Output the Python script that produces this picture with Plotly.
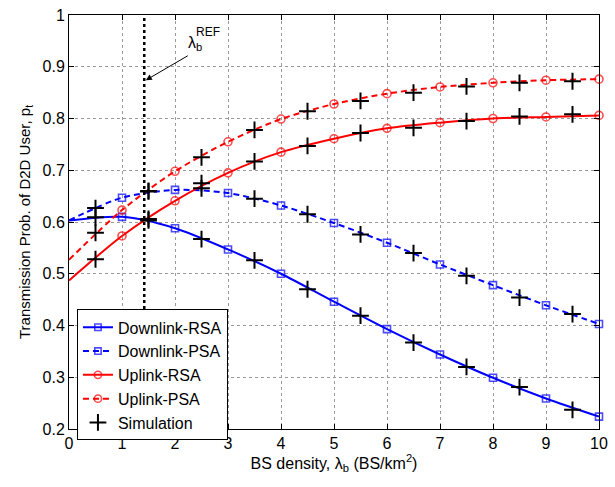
import plotly.graph_objects as go

# ---- data ----
x_ana = [0, 1, 2, 3, 4, 5, 6, 7, 8, 9, 10]
downlink_rsa = [0.603, 0.610, 0.588, 0.547, 0.500, 0.446, 0.393, 0.344, 0.299, 0.259, 0.224]
downlink_psa = [0.603, 0.647, 0.662, 0.656, 0.632, 0.598, 0.560, 0.518, 0.478, 0.439, 0.403]
uplink_rsa = [0.487, 0.573, 0.641, 0.695, 0.735, 0.761, 0.781, 0.792, 0.800, 0.803, 0.806]
uplink_psa = [0.527, 0.623, 0.698, 0.755, 0.799, 0.828, 0.848, 0.861, 0.869, 0.874, 0.876]

x_sim = [0.5, 1.5, 2.5, 3.5, 4.5, 5.5, 6.5, 7.5, 8.5, 9.5]
sim_downlink_rsa = [0.609, 0.603, 0.567, 0.526, 0.470, 0.419, 0.367, 0.320, 0.281, 0.237]
sim_downlink_psa = [0.627, 0.659, 0.665, 0.645, 0.615, 0.576, 0.540, 0.496, 0.454, 0.422]
sim_uplink_rsa = [0.528, 0.606, 0.675, 0.717, 0.747, 0.772, 0.782, 0.795, 0.804, 0.808]
sim_uplink_psa = [0.579, 0.660, 0.725, 0.778, 0.814, 0.834, 0.850, 0.862, 0.869, 0.872]

lambda_ref = 1.42

x_ticks = list(range(0, 11))
y_ticks = [0.2, 0.3, 0.4, 0.5, 0.6, 0.7, 0.8, 0.9, 1.0]
y_tick_labels = ["0.2", "0.3", "0.4", "0.5", "0.6", "0.7", "0.8", "0.9", "1"]

FONT = "Liberation Sans, Arial, Helvetica, sans-serif"
BLUE = "#0000ff"
RED = "#ff0000"

fig = go.Figure()

series = [
    ("Downlink-RSA", downlink_rsa, BLUE, "solid", "square-open", 7),
    ("Downlink-PSA", downlink_psa, BLUE, "6px,4px", "square-open", 7),
    ("Uplink-RSA", uplink_rsa, RED, "solid", "circle-open", 8),
    ("Uplink-PSA", uplink_psa, RED, "6px,4px", "circle-open", 8),
]
for name, ys, col, dash, sym, ms in series:
    sizes = [0] + [ms] * (len(x_ana) - 1)
    fig.add_trace(go.Scatter(
        x=x_ana, y=ys, name=name, mode="lines+markers",
        line=dict(color=col, width=2, dash=dash, shape="spline", smoothing=0.8),
        marker=dict(symbol=sym, size=sizes, color=col, line=dict(color=col, width=1.6)),
        cliponaxis=False,
    ))

sx, sy = [], []
for arr in (sim_downlink_rsa, sim_downlink_psa, sim_uplink_rsa, sim_uplink_psa):
    sx += x_sim
    sy += arr
fig.add_trace(go.Scatter(
    x=sx, y=sy, name="Simulation", mode="markers",
    marker=dict(symbol="cross-thin", size=12, color="black", line=dict(color="black", width=2)),
))

fig.add_shape(type="line", x0=lambda_ref, x1=lambda_ref, y0=0, y1=1, xref="x", yref="paper",
              line=dict(color="black", width=2.5, dash="dot"))

fig.add_annotation(x=1.45, y=0.874, ax=2.27, ay=0.923, xref="x", yref="y", axref="x", ayref="y",
                   text="", showarrow=True, arrowhead=2, arrowsize=1.2, arrowwidth=1, arrowcolor="black")
fig.add_annotation(x=2.38, y=0.945, xref="x", yref="y", text="λ<sub>b</sub>", showarrow=False,
                   font=dict(family=FONT, size=16, color="black"))
fig.add_annotation(x=2.62, y=0.967, xref="x", yref="y", text="REF", showarrow=False,
                   font=dict(family=FONT, size=12, color="black"))

axis_common = dict(
    showline=True, linecolor="black", linewidth=1, mirror="ticks",
    ticks="inside", ticklen=5, tickcolor="black",
    showgrid=True, gridcolor="#9a9a9a", griddash="dot", gridwidth=1,
    zeroline=False, tickfont=dict(family=FONT, size=16, color="black"),
    ticklabeloverflow="allow",
)

fig.update_xaxes(range=[0, 10], tickvals=x_ticks,
                 title=dict(text="BS density, λ<sub>b</sub> (BS/km<sup>2</sup>)",
                            font=dict(family=FONT, size=16, color="black"), standoff=6),
                 **axis_common)
fig.update_yaxes(range=[0.2, 1.0], tickvals=y_ticks, ticktext=y_tick_labels,
                 title=dict(text="Transmission Prob. of D2D User, p<sub>t</sub>",
                            font=dict(family=FONT, size=15, color="black"), standoff=8),
                 **axis_common)

fig.update_layout(
    width=615, height=487,
    margin=dict(l=69, r=10, t=7, b=58),
    paper_bgcolor="white", plot_bgcolor="white",
    font=dict(family=FONT, size=16, color="black"),
    legend=dict(x=0.015, y=0.289, xanchor="left", yanchor="top",
                bordercolor="black", borderwidth=1, bgcolor="white",
                font=dict(family=FONT, size=16, color="black"),
                itemwidth=30, tracegroupgap=0),
    showlegend=True,
)

fig.write_html("out.html")
